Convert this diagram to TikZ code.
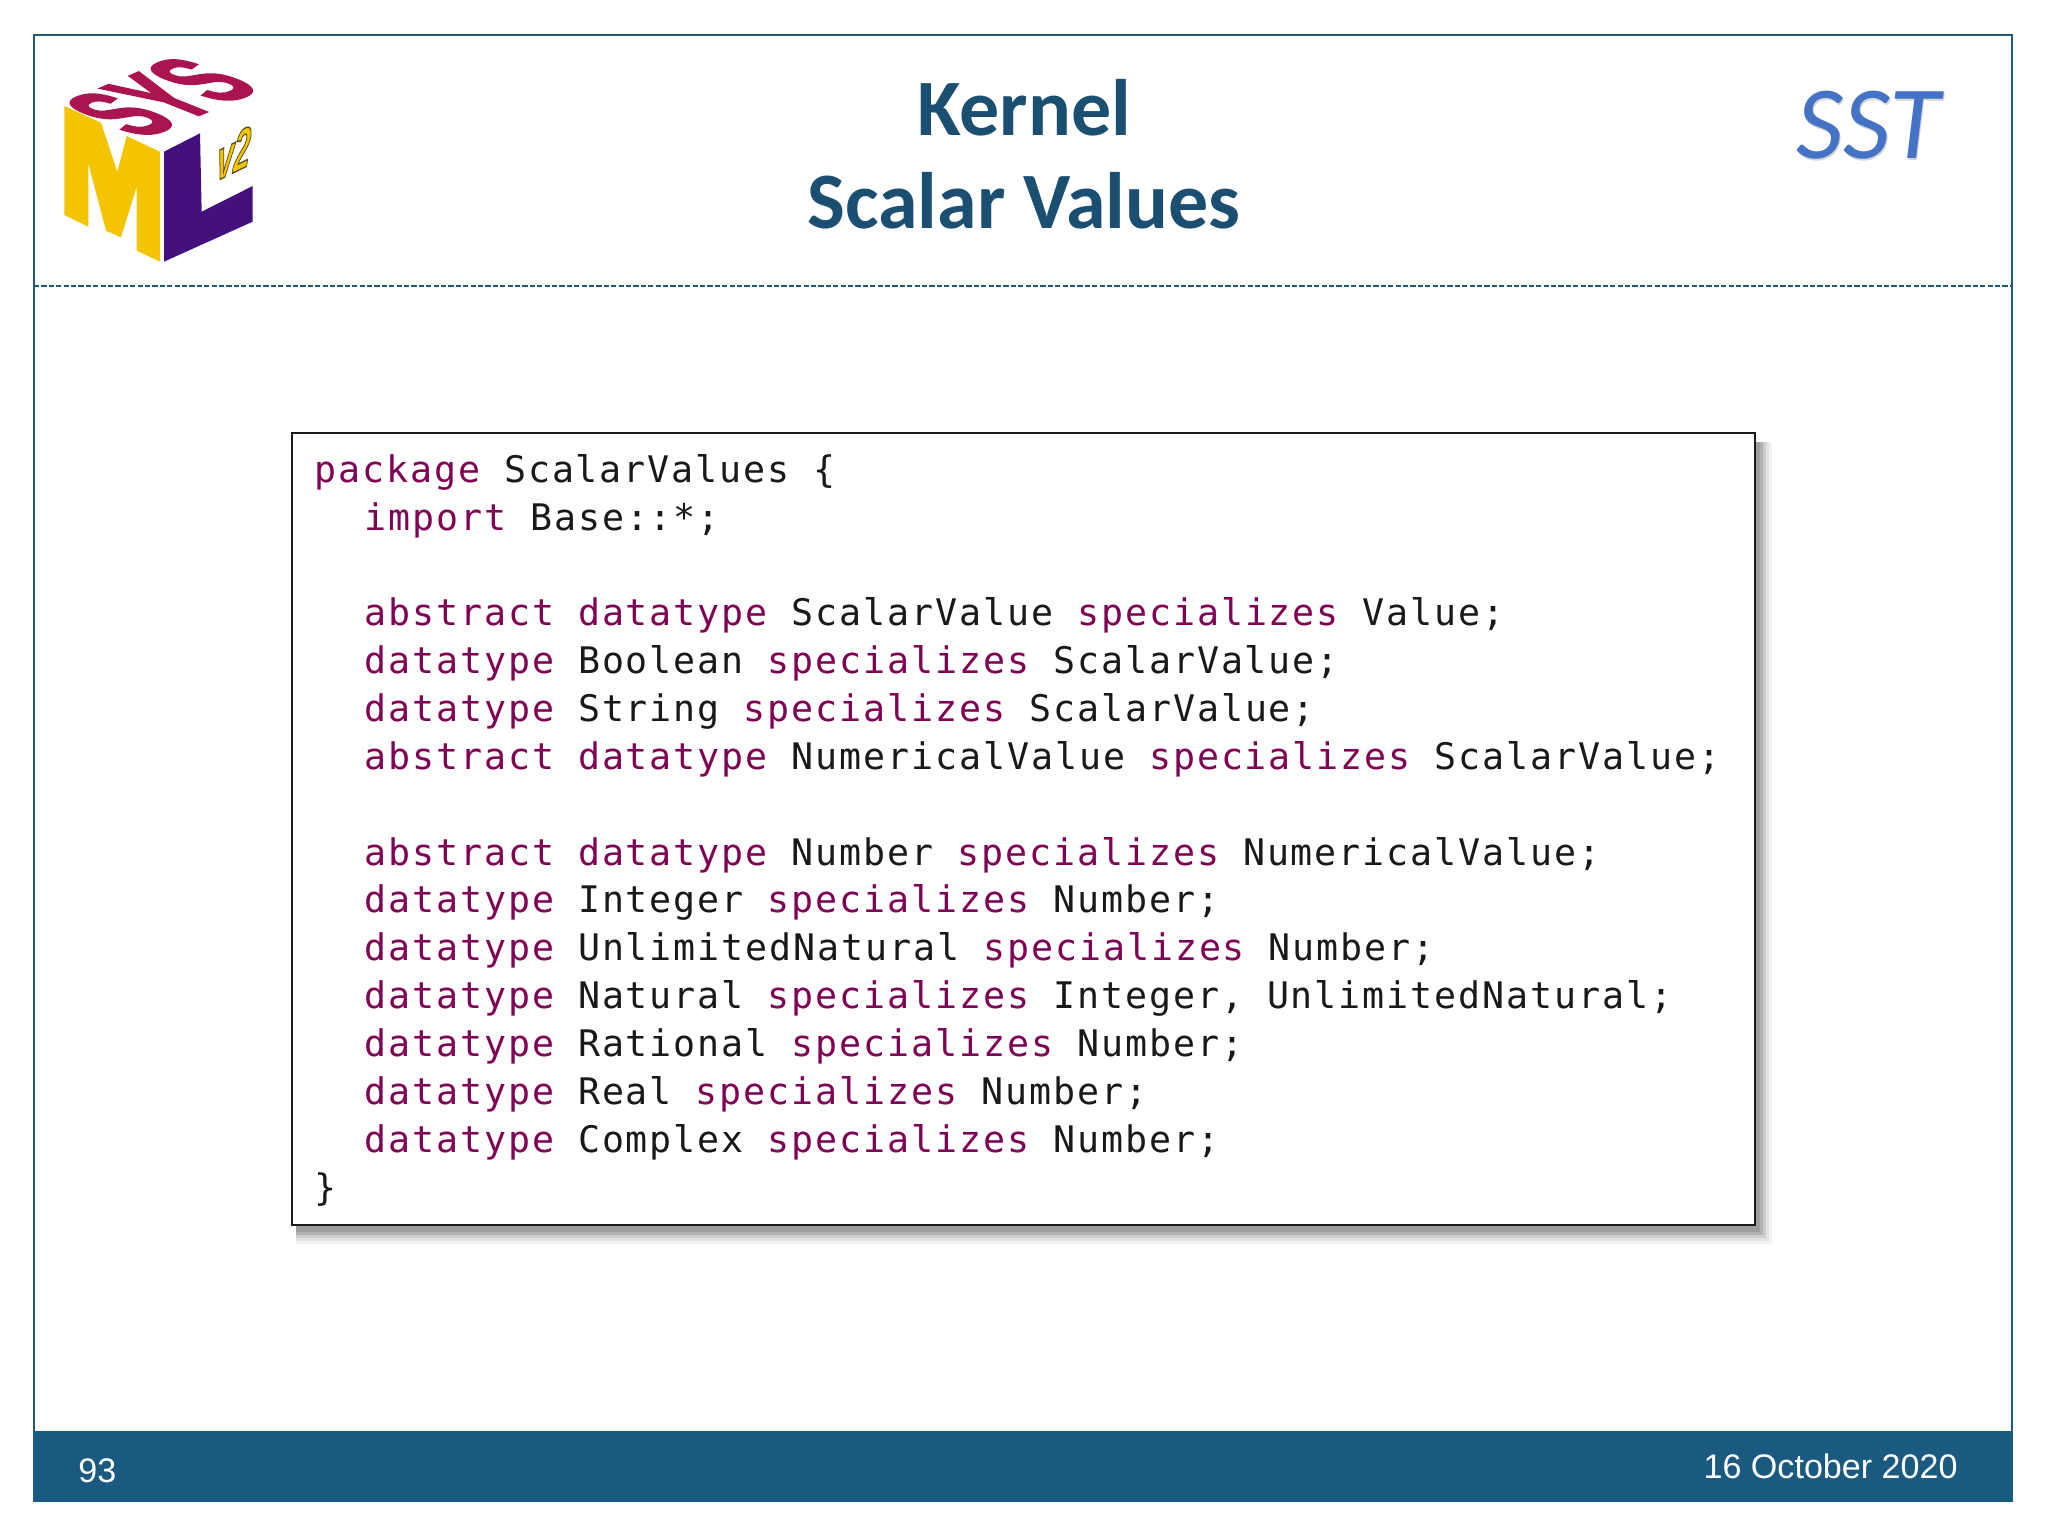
\documentclass[tikz,border=0pt]{standalone}
\usepackage{fontspec}
\setmainfont{Liberation Sans}
\newfontfamily\codefont[LetterSpace=5.25,Ligatures=NoCommon]{DejaVu Sans Mono}
\newfontfamily\titlefont[Ligatures=TeX]{Carlito}
\definecolor{framecol}{HTML}{1F5A7D}
\definecolor{bandcol}{HTML}{1B5A80}
\definecolor{titlecol}{HTML}{1B4F72}
\definecolor{keyw}{HTML}{7F0055}
\definecolor{sstcol}{HTML}{4472C4}
\definecolor{logored}{HTML}{AA1550}
\definecolor{logoyel}{HTML}{F5C400}
\definecolor{logopur}{HTML}{43107E}
\newcommand{\kw}[1]{\textcolor{keyw}{#1}}
\tikzset{
  codeline/.style={anchor=base west,inner sep=0pt,font=\codefont\fontsize{18.3}{20}\selectfont,text=black!90},
  titleline/.style={anchor=base,inner sep=0pt,font=\titlefont\bfseries\fontsize{40}{44}\selectfont,text=titlecol},
  foot/.style={inner sep=0pt,font=\fontsize{17.05}{20}\selectfont,text=white},
}
\begin{document}
\begin{tikzpicture}[x=0.5pt,y=-0.5pt]
\useasboundingbox (0,0) rectangle (2048,1536);
\fill[white] (0,0) rectangle (2048,1536);
% slide frame
\draw[framecol,line width=1.3pt] (34,35) rectangle (2012,1501);
\fill[bandcol] (33,1431) rectangle (2013,1502);
\draw[framecol,line width=0.85pt,dash pattern=on 2.6pt off 1.1pt] (34,286) -- (2012,286);
% titles
\node[titleline] (t1) at (1024,135) {Kernel};
\node[titleline] (t2) at (1024,228) {Scalar Values};
\node[anchor=base,inner sep=0pt,font=\titlefont\itshape\fontsize{52}{55}\selectfont,text=black!35,opacity=.45] at (1869,160) {SST};
\node[anchor=base,inner sep=0pt,font=\titlefont\itshape\fontsize{52}{55}\selectfont,text=sstcol] (sst) at (1868,158) {SST};
% footer
\node[foot,anchor=base west] (num) at (78,1482) {93};
\node[foot,anchor=base east] (date) at (1958,1478) {16 October 2020};
% logo
\begin{scope}[x=0.1666667pt,y=-0.1666667pt,shift={(90,90)}]
\fill[logoyel] (103,228) -- (213,278) -- (262,425) -- (290,318) -- (390,365) -- (390,695) -- (320,662)
  -- (320,470) -- (273,622) -- (228,602) -- (175,400) -- (175,590) -- (103,555) -- cycle;
\fill[logopur] (402,365) -- (510,310) -- (515,545) -- (668,468) -- (668,575) -- (402,695) -- cycle;
\end{scope}
\node[inner sep=0pt,text=logored,font=\bfseries\fontsize{40}{44}\selectfont,
  transform shape,cm={0.76,0.32,-1.5,0.6,(0,0)}] (sys) at (161,97)
  {\special{pdf:code 2 Tr 1.1 w 0.667 0.082 0.314 RG}SYS\special{pdf:code 0 Tr}};
\node[inner sep=0pt,text=logoyel,font=\bfseries\itshape\fontsize{20}{22}\selectfont,
  transform shape,cm={0.75,0.37,0.1,1.45,(0,0)}] (v2) at (234,153)
  {\special{pdf:code 2 Tr 0.5 w 0.35 0.3 0.1 RG}v2\special{pdf:code 0 Tr}};
% code box with shadow
\foreach \g/\o in {17/.10,14/.16,11/.25,8/.4,5/.5}{
  \fill[black!45,opacity=\o] (296,442) rectangle (1755+\g,1227+\g);
}
\node[draw=black!90,line width=1pt,fill=white,inner sep=0pt,anchor=north west,minimum width=731.5pt,minimum height=396.2pt] (box) at (291,432) {};
\node[codeline] (l1) at (314,482) {\kw{package} ScalarValues \{};
\node[codeline] (l2) at (364,530) {\kw{import} Base::*;};
\node[codeline] (l4) at (364,625) {\kw{abstract} \kw{datatype} ScalarValue \kw{specializes} Value;};
\node[codeline] (l5) at (364,673) {\kw{datatype} Boolean \kw{specializes} ScalarValue;};
\node[codeline] (l6) at (364,721) {\kw{datatype} String \kw{specializes} ScalarValue;};
\node[codeline] (l7) at (364,769) {\kw{abstract} \kw{datatype} NumericalValue \kw{specializes} ScalarValue;};
\node[codeline] (l9) at (364,865) {\kw{abstract} \kw{datatype} Number \kw{specializes} NumericalValue;};
\node[codeline] (l10) at (364,912) {\kw{datatype} Integer \kw{specializes} Number;};
\node[codeline] (l11) at (364,960) {\kw{datatype} UnlimitedNatural \kw{specializes} Number;};
\node[codeline] (l12) at (364,1008) {\kw{datatype} Natural \kw{specializes} Integer, UnlimitedNatural;};
\node[codeline] (l13) at (364,1056) {\kw{datatype} Rational \kw{specializes} Number;};
\node[codeline] (l14) at (364,1104) {\kw{datatype} Real \kw{specializes} Number;};
\node[codeline] (l15) at (364,1152) {\kw{datatype} Complex \kw{specializes} Number;};
\node[codeline] (l16) at (314,1200) {\}};
\end{tikzpicture}
\end{document}
